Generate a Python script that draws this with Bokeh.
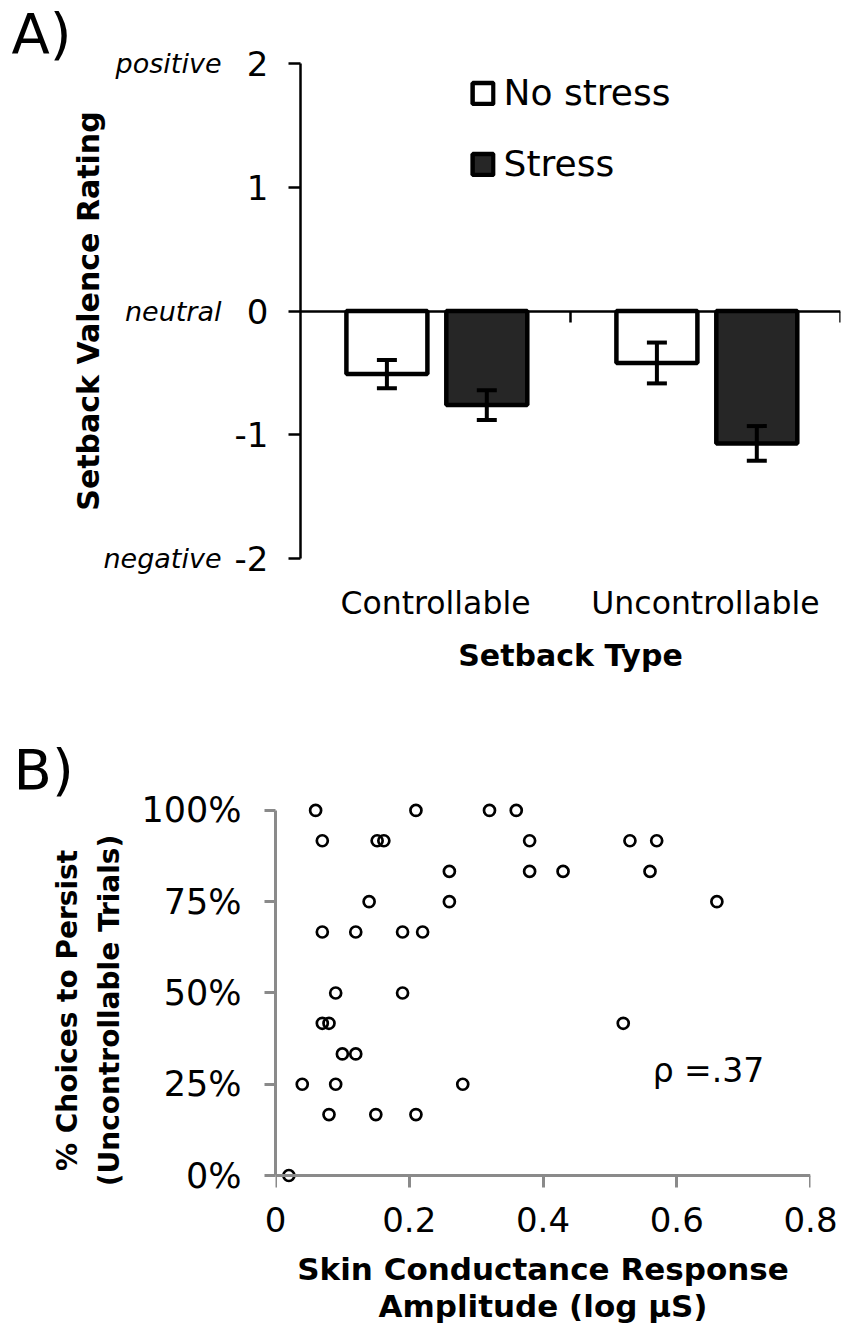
from bokeh.plotting import figure
from bokeh.models import (ColumnDataSource, Range1d, LinearAxis, FixedTicker, Whisker,
                          TeeHead, Label, NumeralTickFormatter)
from bokeh.embed import file_html
from bokeh.resources import INLINE

FONT = "DejaVu Sans"

# ---------------- Panel A data ----------------
categories = ["Controllable", "Uncontrollable"]
series_names = ["No stress", "Stress"]
no_stress_mean = [-0.51, -0.42]
no_stress_err = [0.115, 0.165]
stress_mean = [-0.76, -1.07]
stress_err = [0.12, 0.14]
valence_ticks = [2, 1, 0, -1, -2]
valence_words = {2: "positive", 0: "neutral", -2: "negative"}

# ---------------- Panel B data ----------------
scr_amplitude = [0.06, 0.21, 0.32, 0.36,
                 0.07, 0.152, 0.162, 0.38, 0.53, 0.57,
                 0.26, 0.38, 0.43, 0.56,
                 0.14, 0.26, 0.66,
                 0.07, 0.12, 0.19, 0.22,
                 0.09, 0.19,
                 0.07, 0.08, 0.52,
                 0.10, 0.12,
                 0.04, 0.09, 0.28,
                 0.08, 0.15, 0.21,
                 0.02]
persist_frac = [1.0, 1.0, 1.0, 1.0,
                0.917, 0.917, 0.917, 0.917, 0.917, 0.917,
                0.833, 0.833, 0.833, 0.833,
                0.75, 0.75, 0.75,
                0.667, 0.667, 0.667, 0.667,
                0.5, 0.5,
                0.417, 0.417, 0.417,
                0.333, 0.333,
                0.25, 0.25, 0.25,
                0.167, 0.167, 0.167,
                0.0]
x_ticks_b = [0, 0.2, 0.4, 0.6, 0.8]
y_ticks_b = [0, 0.25, 0.5, 0.75, 1.0]
rho_text = "\u03c1 =.37"


def blank_minor(ax):
    ax.minor_tick_out = 0
    ax.minor_tick_in = 0


def panel_title(p, text, offset):
    p.title.text = text
    p.title.text_font = FONT
    p.title.text_font_size = "56px"
    p.title.text_font_style = "normal"
    p.title.text_color = "black"
    p.title.align = "left"
    p.title.offset = offset
    p.title.standoff = -4


# ================= Panel A =================
pa = figure(width=842, height=700, x_range=Range1d(0, 2), y_range=Range1d(-2, 2),
            output_backend="svg", toolbar_location=None,
            min_border_left=300, min_border_right=2, min_border_top=63, min_border_bottom=142)
pa.outline_line_color = None
pa.grid.visible = False
panel_title(pa, "A)", -289)

centers = [i + 0.5 for i in range(len(categories))]
off_ns, off_s, bar_w = -0.18, 0.19, 0.30

src_ns = ColumnDataSource(dict(
    x=[c + off_ns for c in centers], top=no_stress_mean,
    upper=[m + e for m, e in zip(no_stress_mean, no_stress_err)],
    lower=[m - e for m, e in zip(no_stress_mean, no_stress_err)]))
src_s = ColumnDataSource(dict(
    x=[c + off_s for c in centers], top=stress_mean,
    upper=[m + e for m, e in zip(stress_mean, stress_err)],
    lower=[m - e for m, e in zip(stress_mean, stress_err)]))

pa.vbar(x="x", top="top", bottom=0, width=bar_w, source=src_ns, fill_color="white",
        line_color="black", line_width=4.5, legend_label=series_names[0])
pa.vbar(x="x", top="top", bottom=0, width=bar_w, source=src_s, fill_color="#262626",
        line_color="black", line_width=4.5, legend_label=series_names[1])

for src in (src_ns, src_s):
    w = Whisker(source=src, base="x", upper="upper", lower="lower", line_width=4,
                line_color="black", level="annotation",
                upper_head=TeeHead(size=20, line_width=4, line_color="black"),
                lower_head=TeeHead(size=20, line_width=4, line_color="black"))
    pa.add_layout(w)

# category axis (labels only)
cax = pa.xaxis[0]
cax.ticker = FixedTicker(ticks=centers)
cax.major_label_overrides = {c: name for c, name in zip(centers, categories)}
cax.axis_line_color = None
cax.major_tick_out = 0
cax.major_tick_in = 0
blank_minor(cax)
cax.major_label_standoff = 26
cax.major_label_text_font = FONT
cax.major_label_text_font_size = "31.5px"
cax.major_label_text_color = "black"
cax.axis_label = "Setback Type"
cax.axis_label_text_font = FONT
cax.axis_label_text_font_size = "30px"
cax.axis_label_text_font_style = "bold"
cax.axis_label_text_color = "black"
cax.axis_label_standoff = 14

# zero line axis
zero_axis = LinearAxis(fixed_location=0, ticker=FixedTicker(ticks=[1, 2]),
                       major_label_overrides={1: "", 2: ""},
                       major_tick_out=11, major_tick_in=0, minor_tick_out=0, minor_tick_in=0,
                       axis_line_width=2.5, major_tick_line_width=2.5,
                       axis_line_color="black", major_tick_line_color="black",
                       major_label_standoff=0, major_label_text_font_size="1px")
pa.add_layout(zero_axis, "below")

# inner y axis with numbers
yax = pa.yaxis[0]
yax.ticker = FixedTicker(ticks=valence_ticks)
yax.major_label_overrides = {t: str(t) for t in valence_ticks}
yax.major_tick_out = 12
yax.major_tick_in = 0
blank_minor(yax)
yax.axis_line_width = 2.5
yax.major_tick_line_width = 2.5
yax.axis_line_color = "black"
yax.major_tick_line_color = "black"
yax.major_label_text_font = FONT
yax.major_label_text_font_size = "34px"
yax.major_label_text_color = "black"
yax.major_label_standoff = 20

# outer y axis with words
wax = LinearAxis(ticker=FixedTicker(ticks=list(valence_words.keys())),
                 major_label_overrides=valence_words,
                 axis_line_color=None, major_tick_out=0, major_tick_in=0,
                 minor_tick_out=0, minor_tick_in=0,
                 major_label_text_font=FONT, major_label_text_font_size="27px",
                 major_label_text_font_style="italic", major_label_text_color="black",
                 major_label_standoff=10,
                 axis_label="Setback Valence Rating", axis_label_text_font=FONT,
                 axis_label_text_font_size="30px", axis_label_text_font_style="bold",
                 axis_label_text_color="black", axis_label_standoff=-6)
pa.add_layout(wax, "left")

leg = pa.legend[0]
leg.location = "top_center"
leg.border_line_color = None
leg.background_fill_alpha = 0
leg.label_text_font = FONT
leg.label_text_font_size = "36px"
leg.label_text_color = "black"
leg.glyph_width = 26
leg.glyph_height = 26
leg.label_standoff = 8
leg.spacing = 30
leg.padding = 0
leg.margin = 9

# ================= Panel B =================
pb = figure(width=842, height=643, x_range=Range1d(0, 0.8), y_range=Range1d(-0.126, 1.03),
            output_backend="svg", toolbar_location=None,
            min_border_left=275, min_border_right=32, min_border_top=99, min_border_bottom=122)
pb.outline_line_color = None
pb.grid.visible = False
panel_title(pb, "B)", -262)

pb.scatter(x=scr_amplitude, y=persist_frac, marker="circle", size=11,
           fill_color=None, line_color="black", line_width=2.7)

AX_GRAY = "#8a8a8a"

# x labels + title (no line)
xb = pb.xaxis[0]
xb.ticker = FixedTicker(ticks=x_ticks_b)
xb.major_label_overrides = {t: ("0" if t == 0 else str(t)) for t in x_ticks_b}
xb.axis_line_color = None
xb.major_tick_out = 0
xb.major_tick_in = 0
blank_minor(xb)
xb.major_label_text_font = FONT
xb.major_label_text_font_size = "34px"
xb.major_label_text_color = "black"
xb.major_label_standoff = -15
xb.axis_label = "Skin Conductance Response\nAmplitude (log \u00b5S)"
xb.axis_label_text_font = FONT
xb.axis_label_text_font_size = "31px"
xb.axis_label_text_font_style = "bold"
xb.axis_label_text_color = "black"
xb.axis_label_text_line_height = 1.05
xb.axis_label_standoff = 16

# x axis line at y = 0 with ticks pointing down
zero_b = LinearAxis(fixed_location=0, ticker=FixedTicker(ticks=x_ticks_b),
                    major_label_overrides={t: "" for t in x_ticks_b},
                    major_tick_out=0, major_tick_in=12, minor_tick_out=0, minor_tick_in=0,
                    axis_line_width=3, major_tick_line_width=3,
                    axis_line_color=AX_GRAY, major_tick_line_color=AX_GRAY,
                    major_label_standoff=0, major_label_text_font_size="1px")
pb.add_layout(zero_b, "above")

yb = pb.yaxis[0]
yb.bounds = (0, 1)
yb.ticker = FixedTicker(ticks=y_ticks_b)
yb.formatter = NumeralTickFormatter(format="0%")
yb.axis_line_color = AX_GRAY
yb.axis_line_width = 3
yb.major_tick_line_color = AX_GRAY
yb.major_tick_line_width = 3
yb.major_tick_out = 11
yb.major_tick_in = 0
blank_minor(yb)
yb.major_label_text_font = FONT
yb.major_label_text_font_size = "35px"
yb.major_label_text_color = "black"
yb.major_label_standoff = 23
yb.axis_label = "% Choices to Persist\n(Uncontrollable Trials)"
yb.axis_label_text_font = FONT
yb.axis_label_text_font_size = "28px"
yb.axis_label_text_font_style = "bold"
yb.axis_label_text_color = "black"
yb.axis_label_text_line_height = 1.3
yb.axis_label_standoff = 12

pb.add_layout(Label(x=0.564, y=0.288, text=rho_text, text_font=FONT, text_font_size="33px",
                    text_color="black", text_baseline="middle", text_align="left"))

open("out.html", "w").write(file_html([pa, pb], INLINE))
